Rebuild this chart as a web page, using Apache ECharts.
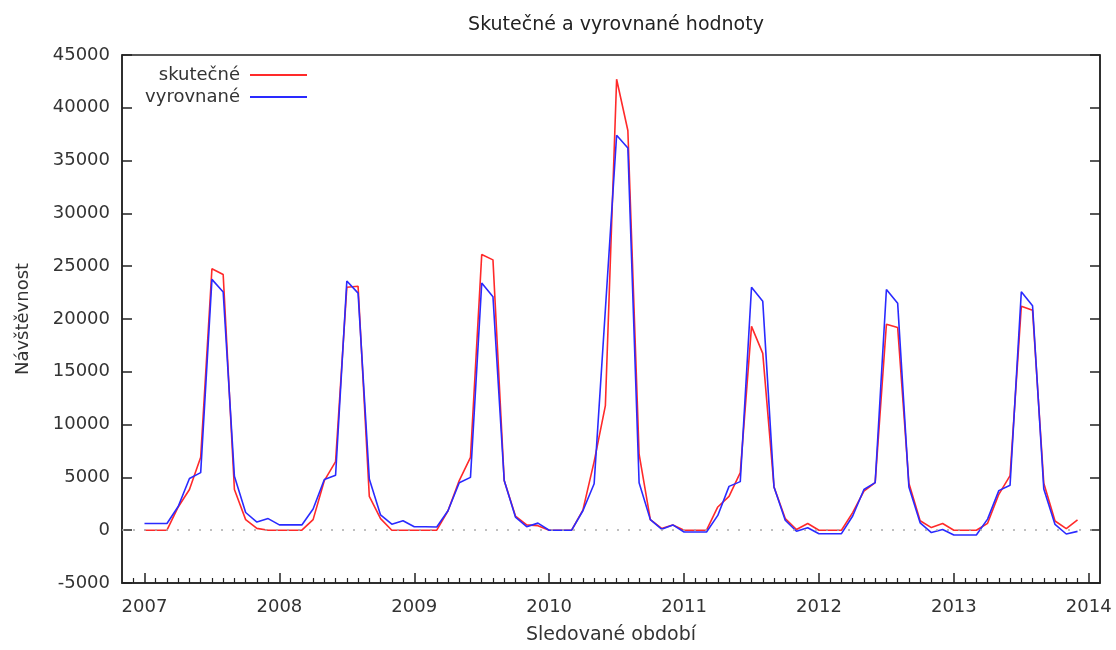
<!DOCTYPE html>
<html>
<head>
<meta charset="utf-8">
<title>Skutečné a vyrovnané hodnoty</title>
<script src="https://cdn.jsdelivr.net/npm/echarts@6/dist/echarts.min.js"></script>
<style>
    html, body { margin: 0; padding: 0; background: #fff; }
    #main1 { width: 1116px; height: 650px; }
</style>
</head>
<body>
<div id="main1"></div>
<script>
// mesicni hodnoty 2007-01 .. 2013-12
var skutecne = [
    0, 0, 0, 2200, 3850, 6900, 24760, 24220, 3850, 1000, 170, 0,
    0, 0, 0, 1000, 4700, 6500, 23000, 23100, 3200, 1100, 0, 0,
    0, 0, 0, 1840, 4700, 6900, 26100, 25600, 4700, 1340, 500, 430,
    0, 0, 0, 1900, 6500, 11800, 42700, 37850, 7200, 1000, 170, 500,
    0, 0, 0, 2200, 3200, 5450, 19300, 16750, 4100, 1100, 70, 640,
    0, 0, 0, 1670, 3700, 4500, 19500, 19200, 4450, 900, 250, 630,
    0, 0, 0, 650, 3400, 5170, 21200, 20820, 4440, 870, 150, 980
];
var vyrovnane = [
    640, 640, 640, 2250, 4900, 5450, 23750, 22550, 5100, 1675, 770, 1100,
    500, 500, 500, 2000, 4800, 5200, 23600, 22450, 4850, 1450, 570, 900,
    330, 330, 300, 1840, 4500, 5000, 23400, 22100, 4700, 1240, 330, 670,
    0, 0, 0, 1840, 4400, 20900, 37400, 36200, 4500, 1000, 100, 500,
    -170, -170, -170, 1400, 4150, 4600, 23000, 21670, 4100, 940, -100, 230,
    -330, -330, -330, 1340, 3850, 4500, 22800, 21500, 4100, 700, -220, 70,
    -450, -450, -450, 1050, 3750, 4260, 22570, 21260, 3900, 550, -360, -110
];
var roky = [2007, 2008, 2009, 2010, 2011, 2012, 2013, 2014];

var font = 'DejaVu Sans';
var textColor = '#333';
var axisColor = '#222';

// osa x = poradi mesice od ledna 2007
var yearTicks = roky.map(function (r, i) { return i * 12; });
var monthTicks = [];
for (var m = -1; m <= 84; m++) {
    if (m % 12 !== 0) monthTicks.push(m);
}

function toPairs(arr) {
    return arr.map(function (v, i) { return [i, v]; });
}

var myChart1 = echarts.init(document.getElementById('main1'));

var legendText = { fontFamily: font, fontSize: 18, color: textColor, padding: [0, 5, 0, 0] };

var option = {
    animation: false,
    backgroundColor: '#fff',
    textStyle: { fontFamily: font },
    title: {
        text: 'Skutečné a vyrovnané hodnoty',
        left: 611,
        top: 11,
        textAlign: 'center',
        textStyle: { fontFamily: font, fontSize: 19, fontWeight: 'normal', color: '#222' }
    },
    legend: [{
        data: ['skutečné'],
        right: 809,
        top: 66,
        padding: 0,
        align: 'right',
        icon: 'rect',
        itemWidth: 57,
        itemHeight: 2,
        textStyle: legendText
    }, {
        data: ['vyrovnané'],
        right: 809,
        top: 88,
        padding: 0,
        align: 'right',
        icon: 'rect',
        itemWidth: 57,
        itemHeight: 2,
        textStyle: legendText
    }],
    grid: {
        left: 122,
        right: 16,
        top: 55,
        bottom: 62,
        show: true,
        borderColor: axisColor,
        borderWidth: 1.5,
        backgroundColor: 'transparent'
    },
    xAxis: [{
        type: 'value',
        min: -2,
        max: 85,
        name: 'Sledované období',
        nameLocation: 'middle',
        nameGap: 43,
        nameTextStyle: { fontFamily: font, fontSize: 19, color: textColor },
        axisLine: { show: true, onZero: false, lineStyle: { color: axisColor, width: 1.5 } },
        axisTick: { show: true, inside: true, length: 10, customValues: yearTicks, lineStyle: { color: axisColor, width: 1.5 } },
        axisLabel: {
            customValues: yearTicks,
            margin: 15,
            fontFamily: font,
            fontSize: 18,
            color: textColor,
            formatter: function (v) { return String(2007 + v / 12); }
        },
        splitLine: { show: false }
    }, {
        type: 'value',
        min: -2,
        max: 85,
        position: 'bottom',
        axisLine: { show: false, onZero: false },
        axisTick: { show: true, inside: true, length: 5, customValues: monthTicks, lineStyle: { color: axisColor, width: 1.2 } },
        axisLabel: { show: false },
        splitLine: { show: false }
    }],
    yAxis: [{
        type: 'value',
        min: -5000,
        max: 45000,
        interval: 5000,
        name: 'Návštěvnost',
        nameLocation: 'middle',
        nameGap: 90,
        nameTextStyle: { fontFamily: font, fontSize: 18, color: textColor },
        axisLine: { show: true, onZero: false, lineStyle: { color: axisColor, width: 1.5 } },
        axisTick: { show: true, inside: true, length: 10, lineStyle: { color: axisColor, width: 1.5 } },
        axisLabel: {
            margin: 12,
            fontFamily: font,
            fontSize: 18,
            color: textColor,
            formatter: function (v) { return String(v); }
        },
        splitLine: { show: false }
    }, {
        type: 'value',
        min: -5000,
        max: 45000,
        interval: 5000,
        position: 'right',
        axisLine: { show: true, onZero: false, lineStyle: { color: axisColor, width: 1.5 } },
        axisTick: { show: true, inside: true, length: 10, lineStyle: { color: axisColor, width: 1.5 } },
        axisLabel: { show: false },
        splitLine: { show: false }
    }],
    series: [{
        name: 'skutečné',
        type: 'line',
        data: toPairs(skutecne),
        symbol: 'none',
        lineStyle: { color: '#ff2a2a', width: 1.6 },
        itemStyle: { color: '#ff2a2a' },
        z: 3,
        markLine: {
            silent: true,
            symbol: 'none',
            label: { show: false },
            lineStyle: { color: '#aaa', type: [2, 9], width: 1.5 },
            data: [{ yAxis: 0 }]
        }
    }, {
        name: 'vyrovnané',
        type: 'line',
        data: toPairs(vyrovnane),
        symbol: 'none',
        lineStyle: { color: '#2a2aff', width: 1.6 },
        itemStyle: { color: '#2a2aff' },
        z: 4
    }]
};

myChart1.setOption(option);
</script>
</body>
</html>
